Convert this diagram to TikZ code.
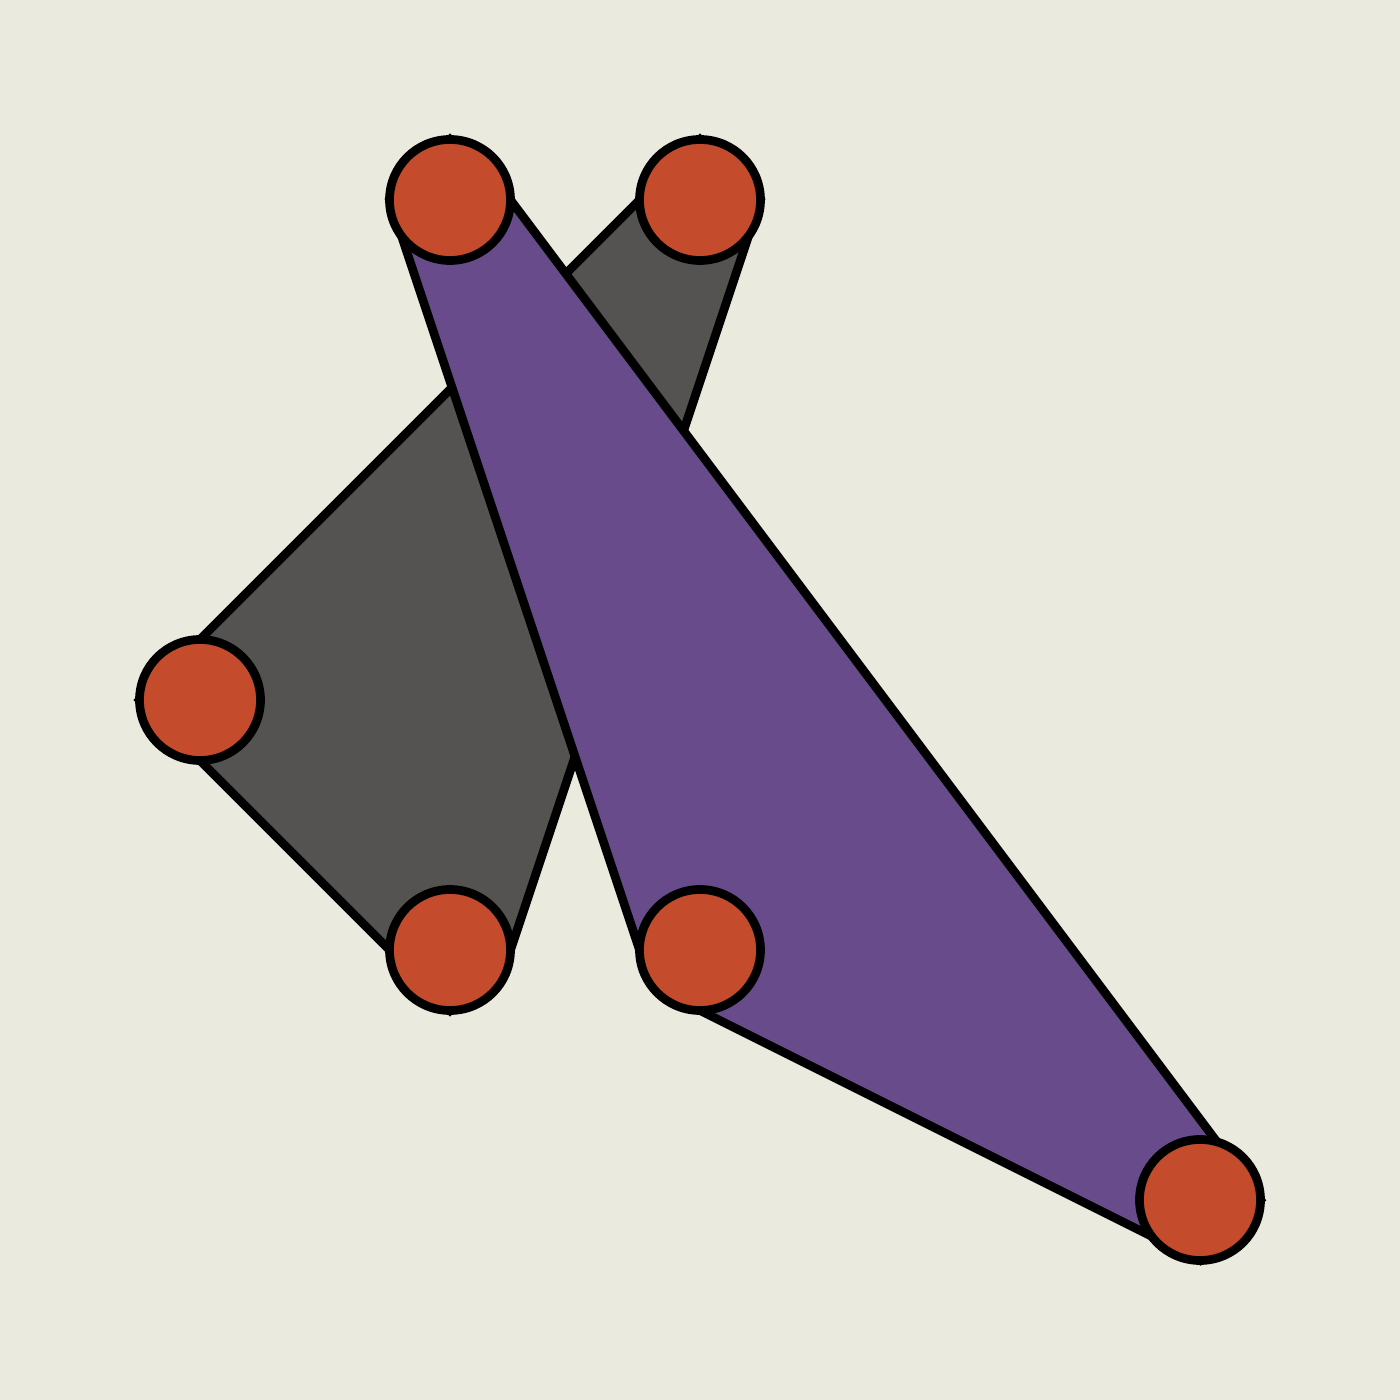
\documentclass[tikz,border=0pt]{standalone}
\usetikzlibrary{backgrounds}
\definecolor{paper}{HTML}{EAEADF}
\definecolor{dot}{HTML}{C44B2C}
\definecolor{slate}{HTML}{545351}
\definecolor{violet}{HTML}{684B8A}
\begin{document}
\begin{tikzpicture}[line width=0.087cm]
  \tikzstyle{joint}=[circle, draw=black, fill=dot, minimum size=1.21cm, inner sep=0pt, outer sep=0pt]
  \tikzstyle{sheet}=[draw=black, line width=0.087cm, line join=miter]

  \useasboundingbox (0, 0) rectangle (14, 14);

  \node[joint] (0) at (4.5, 12) {};
  \node[joint] (1) at (7, 12) {};
  \node[joint] (2) at (2, 7) {};
  \node[joint] (3) at (4.5, 4.5) {};
  \node[joint] (4) at (7, 4.5) {};
  \node[joint] (5) at (12, 2) {};

  \begin{pgfonlayer}{background}
    \fill [paper] (0, 0) rectangle (14, 14);
    \filldraw[sheet, fill=slate] (1.north) -- (1.west) -- (2.north) -- (2.west) -- (2.south)
      -- (3.west) -- (3.south) -- (3.east) -- (1.east) -- cycle;
    \filldraw[sheet, fill=violet] (0.north) -- (0.west) -- (4.west) -- (4.south)
      -- (5.south) -- (5.east) -- (0.east) -- cycle;
  \end{pgfonlayer}
\end{tikzpicture}
\end{document}
